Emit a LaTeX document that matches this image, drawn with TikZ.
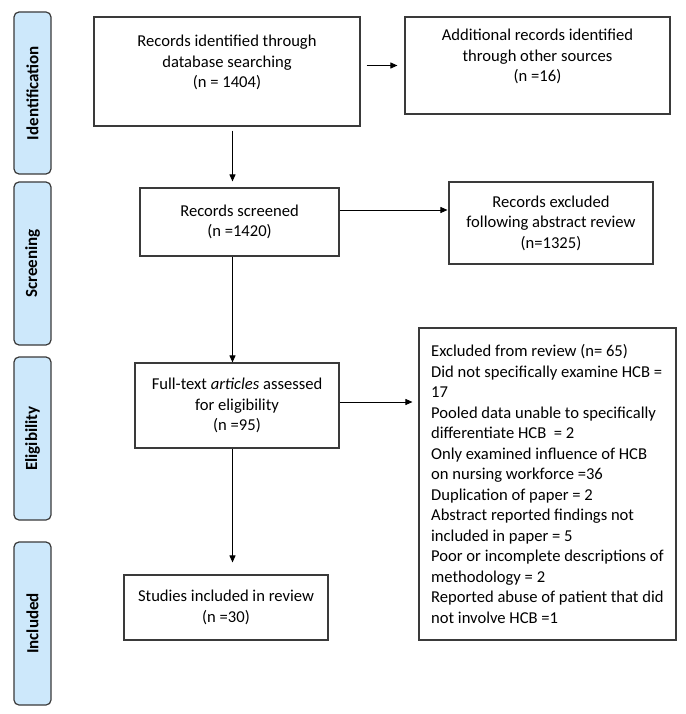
\documentclass[tikz,border=0pt]{standalone}
\usepackage{fontspec}
\setmainfont{Carlito}
\usetikzlibrary{arrows.meta}
\definecolor{stageblue}{HTML}{CDE8FB}
\definecolor{edgegray}{HTML}{3A3A3A}

\begin{document}
\begin{tikzpicture}[x=1pt,y=-1pt,
  box/.style={draw=edgegray, line width=1.1pt, align=center, inner sep=0pt,
    font=\fontsize{16.6pt}{20.5pt}\selectfont},
  stage/.style={draw=edgegray, fill=stageblue, rounded corners=5pt, line width=1.2pt,
    rotate=90, minimum height=37pt, inner sep=0pt,
    font=\fontsize{17pt}{20pt}\selectfont\bfseries},
  arr/.style={-{Triangle[length=7pt,width=6pt]}, line width=0.9pt}]
\fill[white] (0,0) rectangle (685,714);
\useasboundingbox (0,0) rectangle (685,714);
% stages down the left side
\node[stage, minimum width=162pt] (s1) at (32.5,93) {Identification};
\node[stage, minimum width=163pt] (s2) at (32.5,263.5) {Screening};
\node[stage, minimum width=163pt] (s3) at (32.5,438.5) {Eligibility};
\node[stage, minimum width=163pt] (s4) at (32.5,623.5) {Included};
% flow boxes
\node[box, minimum width=266pt, minimum height=109pt] (b1) at (227,71.5)
  {Records identified through\\database searching\\(n = 1404)\\~};
\node[box, minimum width=265pt, minimum height=97pt] (b2) at (537.5,65.5)
  {Additional records identified\\through other sources\\(n =16)\\~};
\node[box, minimum width=199pt, minimum height=68pt] (b3) at (239.5,222)
  {Records screened\\(n =1420)};
\node[box, minimum width=204pt, minimum height=82pt] (b4) at (551,223)
  {Records excluded\\following abstract review\\(n=1325)};
\node[box, minimum width=204pt, minimum height=85pt] (b5) at (237,405.5)
  {Full-text \emph{articles} assessed\\for eligibility\\(n =95)};
\node[box, minimum width=257pt, minimum height=312pt, align=left] (b6) at (547.5,484)
  {Excluded from review (n= 65)\\
   Did not specifically examine HCB =\\
   17\\
   Pooled data unable to specifically\\
   differentiate HCB \ = 2\\
   Only examined influence of HCB\\
   on nursing workforce =36\\
   Duplication of paper = 2\\
   Abstract reported findings not\\
   included in paper = 5\\
   Poor or incomplete descriptions of\\
   methodology = 2\\
   Reported abuse of patient that did\\
   not involve HCB =1};
\node[box, minimum width=204pt, minimum height=65pt] (b7) at (226,607.5)
  {Studies included in review\\(n =30)};
\coordinate (spine) at (232.5,0);
% arrows
\draw[arr, shorten <=6pt, shorten >=7pt] (b1.east |- b2.west) -- (b2.west);
\draw[arr, shorten <=4pt, shorten >=6pt] (b1.south -| spine) -- (b3.north -| spine);
\draw[arr, shorten >=1pt] ([yshift=12pt]b3.east) -- ([yshift=12pt]b3.east -| b4.west);
\draw[arr] (b3.south -| spine) -- (b5.north -| spine);
\draw[arr, shorten >=6pt] ([yshift=3.5pt]b5.east) -- ([yshift=3.5pt]b5.east -| b6.west);
\draw[arr, shorten >=12pt] (b5.south -| spine) -- (b7.north -| spine);
\end{tikzpicture}
\end{document}
